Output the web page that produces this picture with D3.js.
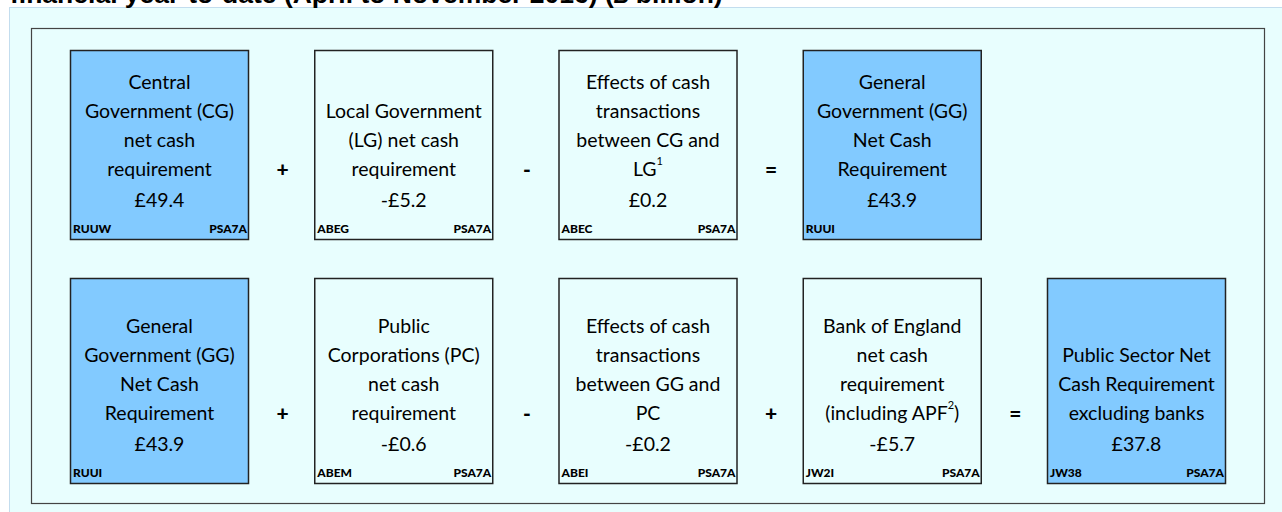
<!DOCTYPE html>
<html><head><meta charset="utf-8">
<script src="https://cdn.jsdelivr.net/npm/d3@7"></script>
<style>html,body{margin:0;padding:0;background:#fff;}svg{display:block;}</style>
</head><body>
<script>
const titleText = "financial year-to-date (April to November 2016) (£ billion)";

// Row 1
const row1Labels = [
  ["Central", "Government (CG)", "net cash", "requirement"],
  ["Local Government", "(LG) net cash", "requirement"],
  ["Effects of cash", "transactions", "between CG and", "LG|1"],
  ["General", "Government (GG)", "Net Cash", "Requirement"]
];
const row1Values = [49.4, -5.2, 0.2, 43.9];
const row1CodesLeft = ["RUUW", "ABEG", "ABEC", "RUUI"];
const row1CodesRight = ["PSA7A", "PSA7A", "PSA7A", ""];
const row1Highlight = [true, false, false, true];
const row1Operators = ["+", "-", "="];

// Row 2
const row2Labels = [
  ["General", "Government (GG)", "Net Cash", "Requirement"],
  ["Public", "Corporations (PC)", "net cash", "requirement"],
  ["Effects of cash", "transactions", "between GG and", "PC"],
  ["Bank of England", "net cash", "requirement", "(including APF|2|)"],
  ["Public Sector Net", "Cash Requirement", "excluding banks"]
];
const row2Values = [43.9, -0.6, -0.2, -5.7, 37.8];
const row2CodesLeft = ["RUUI", "ABEM", "ABEI", "JW2I", "JW38"];
const row2CodesRight = ["", "PSA7A", "PSA7A", "PSA7A", "PSA7A"];
const row2Highlight = [true, false, false, false, true];
const row2Operators = ["+", "-", "+", "="];

const W = 1282, H = 512;
const svg = d3.select("body").append("svg").attr("width", W).attr("height", H);

// panel
svg.append("rect").attr("x", 9.5).attr("y", 7.5).attr("width", W).attr("height", H)
  .attr("fill", "#E8FEFE").attr("stroke", "#C3DDEE").attr("stroke-width", 1);
svg.append("text").attr("x", 10).attr("y", 3)
  .attr("font-family", "Liberation Sans, Arial, sans-serif").attr("font-weight", "bold")
  .attr("font-size", 26.5).attr("fill", "#000").text(titleText);
svg.append("rect").attr("x", 31.5).attr("y", 28.5).attr("width", 1233).attr("height", 475)
  .attr("fill", "none").attr("stroke", "#444").attr("stroke-width", 1.2);

const boxW = 178;
const x = d3.scalePoint().domain(d3.range(5)).range([70, 1047]);
const fmt = v => (v < 0 ? "-£" : "£") + d3.format(".1f")(Math.abs(v));
const font = "Lato, 'Open Sans', sans-serif";

function drawRow(labels, values, codesL, codesR, hl, ops, top, bottom) {
  const g = svg.append("g");
  const valueY = bottom - 40;
  labels.forEach((lines, i) => {
    const x0 = x(i);
    g.append("rect").attr("x", x0 + 0.5).attr("y", top + 0.5).attr("width", boxW).attr("height", bottom - top)
      .attr("fill", hl[i] ? "#82CAFF" : "#E8FEFE").attr("stroke", "#222").attr("stroke-width", 1.5);
    const cx = x0 + boxW / 2 + 0.5;
    const n = lines.length;
    lines.forEach((ln, j) => {
      const y = valueY - 31 - (n - 1 - j) * 29;
      const t = g.append("text").attr("x", cx).attr("y", y).attr("text-anchor", "middle")
        .attr("dominant-baseline", "central")
        .attr("font-family", font).attr("font-size", 19.5).attr("fill", "#000");
      const parts = ln.split("|");
      t.append("tspan").text(parts[0]);
      if (parts.length > 1) {
        t.append("tspan").attr("font-size", 11).attr("dy", -8).text(parts[1]);
        if (parts[2]) t.append("tspan").attr("dy", 8).text(parts[2]);
      }
    });
    g.append("text").attr("x", cx).attr("y", valueY).attr("text-anchor", "middle")
      .attr("dominant-baseline", "central")
      .attr("font-family", font).attr("font-size", 19.5).attr("fill", "#000").text(fmt(values[i]));
    g.append("text").attr("x", x0 + 3).attr("y", bottom - 6).attr("font-family", font)
      .attr("font-weight", "900").attr("font-size", 12).attr("fill", "#000").text(codesL[i]);
    g.append("text").attr("x", x0 + boxW - 1).attr("y", bottom - 6).attr("text-anchor", "end")
      .attr("font-family", font).attr("font-weight", "900").attr("font-size", 12).attr("fill", "#000").text(codesR[i]);
  });
  ops.forEach((op, i) => {
    const ox = (x(i) + boxW + x(i + 1)) / 2 + 1.5;
    g.append("text").attr("x", ox).attr("y", valueY - 31).attr("text-anchor", "middle")
      .attr("dominant-baseline", "central").attr("font-family", font).attr("font-weight", "900")
      .attr("font-size", 21).attr("fill", "#000").text(op);
  });
}

drawRow(row1Labels, row1Values, row1CodesLeft, row1CodesRight, row1Highlight, row1Operators, 50, 239);
drawRow(row2Labels, row2Values, row2CodesLeft, row2CodesRight, row2Highlight, row2Operators, 278, 483);
</script>
</body></html>
